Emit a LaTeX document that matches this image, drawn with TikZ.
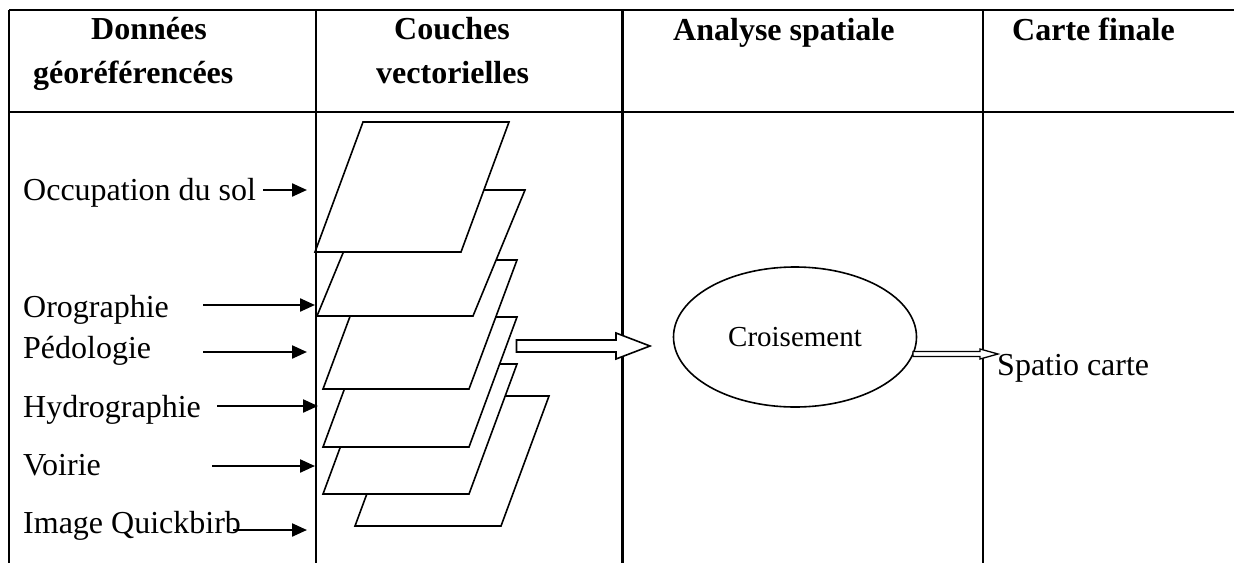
\documentclass[tikz,border=0pt]{standalone}
\usepackage{fontspec}
\setmainfont{Liberation Serif}
\usetikzlibrary{arrows.meta,shapes.geometric,calc}
\begin{document}
\begin{tikzpicture}[x=1pt,y=-1pt,
  gridline/.style={line width=2.2pt},
  layer/.style={draw,fill=white,line width=1.6pt,line join=miter},
  lbl/.style={anchor=base west,inner sep=0pt,font=\fontsize{32}{38}\selectfont},
  hdr/.style={anchor=base west,inner sep=0pt,font=\fontsize{32}{38}\selectfont\bfseries},
  inarrow/.style={line width=2.3pt,-{Triangle[length=15pt,width=13pt]}},
  block/.style={draw,line width=1.6pt,fill=white,line join=miter}]
\useasboundingbox (0,0) rectangle (1234,563);

% headers
\node[hdr] (h1a) at (91,39) {Données};
\node[hdr] (h1b) at (33,83) {géoréférencées};
\node[hdr] (h2a) at (394,39) {Couches};
\node[hdr] (h2b) at (376,83) {vectorielles};
\node[hdr] (h3) at (673,40) {Analyse spatiale};
\node[hdr] (h4) at (1012,40) {Carte finale};

% layers (bottom to top)
\draw[layer] (355,526) -- (501,526) -- (549,396) -- (403,396) -- cycle;
\draw[layer] (323,494) -- (469,494) -- (517,364) -- (371,364) -- cycle;
\draw[layer] (323,447) -- (469,447) -- (517,317) -- (371,317) -- cycle;
\draw[layer] (323,389) -- (469,389) -- (517,260) -- (371,260) -- cycle;
\draw[layer] (317,316) -- (473,316) -- (525,190) -- (369,190) -- cycle;
\draw[layer] (315,252) -- (461,252) -- (509,122) -- (363,122) -- cycle;

% table lines
\draw[gridline] (9,10) -- (1234,10);
\draw[gridline] (9,112) -- (1234,112);
\draw[gridline] (9,10) -- (9,563);
\draw[gridline] (316,10) -- (316,563);
\draw[gridline] (622.5,10) -- (622.5,563);
\draw[gridline] (983,10) -- (983,563);

% data labels
\node[lbl] (occ) at (23,200) {Occupation du sol};
\node[lbl] (oro) at (23,317) {Orographie};
\node[lbl] (ped) at (23,358) {Pédologie};
\node[lbl] (hyd) at (23,417) {Hydrographie};
\node[lbl] (voi) at (23,475) {Voirie};
\node[lbl] (img) at (23,533) {Image Quickbirb};

\coordinate (occS) at (263,190); \coordinate (occE) at (307,190);
\coordinate (oroS) at (203,305); \coordinate (oroE) at (315,305);
\coordinate (pedS) at (203,352); \coordinate (pedE) at (307,352);
\coordinate (hydS) at (217,406); \coordinate (hydE) at (318,406);
\coordinate (voiS) at (212,466); \coordinate (voiE) at (315,466);
\coordinate (imgS) at (233,530); \coordinate (imgE) at (307,530);
\draw[inarrow] (occS) -- (occE);
\draw[inarrow] (oroS) -- (oroE);
\draw[inarrow] (pedS) -- (pedE);
\draw[inarrow] (hydS) -- (hydE);
\draw[inarrow] (voiS) -- (voiE);
\draw[inarrow] (imgS) -- (imgE);

% ellipse
\node[ellipse,draw,line width=1.6pt,minimum width=243pt,minimum height=140pt,inner sep=0pt,
  font=\fontsize{29}{34}\selectfont] (ell) at (795,337) {\raisebox{-6.5pt}{Croisement}};

% block arrow 1: layers -> ellipse
\coordinate (b1s) at (516.5,346);
\coordinate (b1t) at (650,346);
\draw[block] ($(b1s)+(0,-6)$) -- (616,340) -- (616,333) -- (b1t) -- (616,359) -- (616,352) -- ($(b1s)+(0,6)$) -- cycle;

% block arrow 2: ellipse -> final map
\coordinate (b2s) at (913,354);
\coordinate (b2t) at (998,354);
\draw[block,line width=1.3pt] ($(b2s)+(0,-2.5)$) -- (980,351.5) -- (980,349) -- (b2t) -- (980,359) -- (980,356.5) -- ($(b2s)+(0,2.5)$) -- cycle;

\node[lbl] (spc) at (997,375) {Spatio carte};
\end{tikzpicture}
\end{document}
